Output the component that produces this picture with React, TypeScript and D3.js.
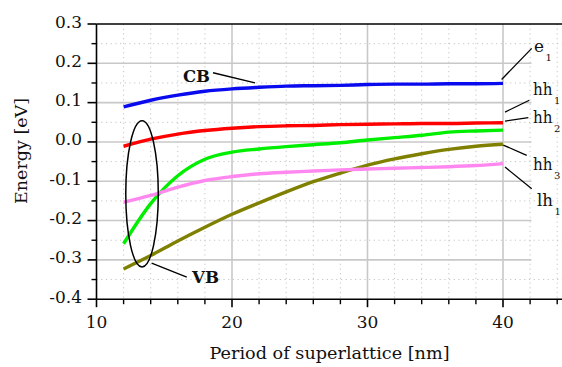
import React from "react";
import * as d3 from "d3";

const periods = [12, 14, 16, 18, 20, 22, 24, 26, 28, 30, 32, 34, 36, 38, 40];
const e1 = [0.089, 0.106, 0.119, 0.129, 0.135, 0.139, 0.142, 0.143, 0.144, 0.146, 0.147, 0.147, 0.148, 0.148, 0.149];
const hh1 = [-0.011, 0.007, 0.02, 0.029, 0.035, 0.039, 0.041, 0.042, 0.044, 0.045, 0.046, 0.047, 0.047, 0.048, 0.049];
const hh2 = [-0.259, -0.157, -0.086, -0.044, -0.026, -0.018, -0.012, -0.007, -0.002, 0.005, 0.011, 0.017, 0.025, 0.028, 0.03];
const hh3 = [-0.323, -0.289, -0.252, -0.217, -0.184, -0.155, -0.127, -0.101, -0.079, -0.059, -0.043, -0.03, -0.019, -0.011, -0.006];
const lh1 = [-0.153, -0.136, -0.115, -0.098, -0.088, -0.081, -0.077, -0.074, -0.071, -0.069, -0.067, -0.065, -0.063, -0.06, -0.055];

const seriesNames = ["e1", "hh1", "hh2", "hh3", "lh1"];
const seriesValues = [e1, hh1, hh2, hh3, lh1];
const seriesColors = ["#0a0aee", "#ff0000", "#00ee00", "#808000", "#ff88f0"];

const xTicks = [10, 20, 30, 40];
const yTicks = [-0.4, -0.3, -0.2, -0.1, 0.0, 0.1, 0.2, 0.3];

// annotations in data units
const curveLabels = [
  { main: "e", sub: "1", tx: 42.29, ty: 0.228, x1: 39.9, y1: 0.159, x2: 42.12, y2: 0.238, len: 10 },
  { main: "hh", sub: "1", tx: 42.21, ty: 0.119, x1: 40.15, y1: 0.076, x2: 41.94, y2: 0.106, len: 19.5 },
  { main: "hh", sub: "2", tx: 42.21, ty: 0.047, x1: 40.15, y1: 0.053, x2: 41.87, y2: 0.062, len: 19.5 },
  { main: "hh", sub: "3", tx: 42.21, ty: -0.072, x1: 40.02, y1: -0.008, x2: 41.75, y2: -0.034, len: 19.5 },
  { main: "lh", sub: "1", tx: 42.51, ty: -0.164, x1: 40.15, y1: -0.064, x2: 42.12, y2: -0.119, len: 16 },
];
const bandLabels = [
  { text: "CB", tx: 16.38, ty: 0.152, x1: 18.6, y1: 0.176, x2: 21.7, y2: 0.15 },
  { text: "VB", tx: 17.05, ty: -0.36, x1: 14.07, y1: -0.308, x2: 16.66, y2: -0.344 },
];
const ellipse = { cx: 13.36, cy: -0.132, rx: 1.2, ry: 0.186 };

const W = 562;
const H = 367;
const FONT = "'DejaVu Serif', 'Liberation Serif', serif";

export default function App() {
  const x = d3.scaleLinear().domain([10, 45]).range([96.5, 96.5 + 35 * 13.55]);
  const y = d3.scaleLinear().domain([-0.4, 0.3]).range([299.2, 24]);
  const x0 = x(10);
  const y0 = y(-0.4);
  const yTop = y(0.3);

  const minorX = d3.range(12, 45, 2).filter((v) => v % 10 !== 0);
  const minorY = d3.range(-0.35, 0.3, 0.1);
  const majorYGrid = yTicks.filter((v) => v > -0.35 && v < 0.25);
  const majorXGrid = xTicks.filter((v) => v > 10);

  const line = d3
    .line<number>()
    .x((_, i) => x(periods[i]))
    .y((d) => y(d))
    .curve(d3.curveMonotoneX);

  return (
    <div style={{ position: "absolute", left: 0, top: 0 }}>
      <svg width={W} height={H} style={{ display: "block", background: "#fff" }}>
        {/* minor dotted grid */}
        {minorX.map((v) => (
          <line key={"mx" + v} x1={x(v)} x2={x(v)} y1={yTop} y2={y0} stroke="#c4c4c4" strokeWidth={1} strokeDasharray="1.2,3.5" />
        ))}
        {minorY.map((v) => (
          <line key={"my" + v} x1={x0} x2={W} y1={y(v)} y2={y(v)} stroke="#c4c4c4" strokeWidth={1} strokeDasharray="1.2,3.5" />
        ))}
        {/* major grid */}
        {majorXGrid.map((v) => (
          <line key={"gx" + v} x1={x(v)} x2={x(v)} y1={yTop} y2={y0} stroke="#c8c8c8" strokeWidth={1.6} />
        ))}
        {majorYGrid.map((v) => (
          <line key={"gy" + v} x1={x0} x2={x(42.1)} y1={y(v)} y2={y(v)} stroke="#c8c8c8" strokeWidth={1.6} />
        ))}

        {/* curves */}
        {seriesValues.map((vals, i) => (
          <path key={seriesNames[i]} d={line(vals) || ""} fill="none" stroke={seriesColors[i]} strokeWidth={3.4} />
        ))}

        {/* axes */}
        <line x1={x0} x2={W} y1={yTop} y2={yTop} stroke="#000" strokeWidth={1.6} />
        <line x1={x0} x2={W} y1={y0} y2={y0} stroke="#000" strokeWidth={1.6} />
        <line x1={x0} x2={x0} y1={yTop} y2={y0} stroke="#000" strokeWidth={1.6} />
        {yTicks.map((v) => (
          <g key={"yt" + v}>
            <line x1={x0 - 9} x2={x0} y1={y(v)} y2={y(v)} stroke="#000" strokeWidth={1.6} />
            <text x={x0 - 14.5} y={y(v) + 3.5} textAnchor="end" fontFamily={FONT} fontSize={17} fill="#111">
              {v.toFixed(1)}
            </text>
          </g>
        ))}
        {minorY.map((v) => (
          <line key={"ymt" + v} x1={x0 - 5} x2={x0} y1={y(v)} y2={y(v)} stroke="#000" strokeWidth={1.4} />
        ))}
        {xTicks.map((v) => (
          <g key={"xt" + v}>
            <line x1={x(v)} x2={x(v)} y1={y0} y2={y0 + 8} stroke="#000" strokeWidth={1.6} />
            <text x={x(v)} y={y0 + 29} textAnchor="middle" fontFamily={FONT} fontSize={17} fill="#111">
              {v}
            </text>
          </g>
        ))}
        {minorX.map((v) => (
          <line key={"xmt" + v} x1={x(v)} x2={x(v)} y1={y0} y2={y0 + 5} stroke="#000" strokeWidth={1.4} />
        ))}

        {/* axis titles */}
        <text
          transform={`translate(27, ${y(-0.023)}) rotate(-90)`}
          textAnchor="middle"
          fontFamily={FONT}
          fontSize={17.5}
          textLength={106}
          lengthAdjust="spacingAndGlyphs"
          fill="#111"
        >
          Energy [eV]
        </text>
        <text
          x={x(27.2)}
          y={359}
          textAnchor="middle"
          fontFamily={FONT}
          fontSize={17}
          textLength={240}
          lengthAdjust="spacingAndGlyphs"
          fill="#111"
        >
          Period of superlattice [nm]
        </text>

        {/* ellipse */}
        <ellipse
          cx={x(ellipse.cx)}
          cy={y(ellipse.cy)}
          rx={x(10 + ellipse.rx) - x(10)}
          ry={y(0) - y(ellipse.ry)}
          fill="none"
          stroke="#000"
          strokeWidth={1.5}
        />

        {/* band labels */}
        {bandLabels.map((b) => (
          <g key={b.text}>
            <line x1={x(b.x1)} y1={y(b.y1)} x2={x(b.x2)} y2={y(b.y2)} stroke="#000" strokeWidth={1.3} />
            <text
              x={x(b.tx)}
              y={y(b.ty)}
              fontFamily={FONT}
              fontSize={16}
              fontWeight="bold"
              textLength={27}
              lengthAdjust="spacingAndGlyphs"
              fill="#111"
            >
              {b.text}
            </text>
          </g>
        ))}

        {/* curve labels */}
        {curveLabels.map((c, i) => (
          <g key={"cl" + i}>
            <line x1={x(c.x1)} y1={y(c.y1)} x2={x(c.x2)} y2={y(c.y2)} stroke="#000" strokeWidth={1.3} />
            <text
              x={x(c.tx)}
              y={y(c.ty)}
              fontFamily={FONT}
              fontSize={17}
              textLength={c.len}
              lengthAdjust="spacingAndGlyphs"
              fill="#111"
            >
              {c.main}
            </text>
            <text x={x(c.tx) + c.len + 1.5} y={y(c.ty) + 9} fontFamily={FONT} fontSize={10} fill="#111">
              {c.sub}
            </text>
          </g>
        ))}
      </svg>
    </div>
  );
}
